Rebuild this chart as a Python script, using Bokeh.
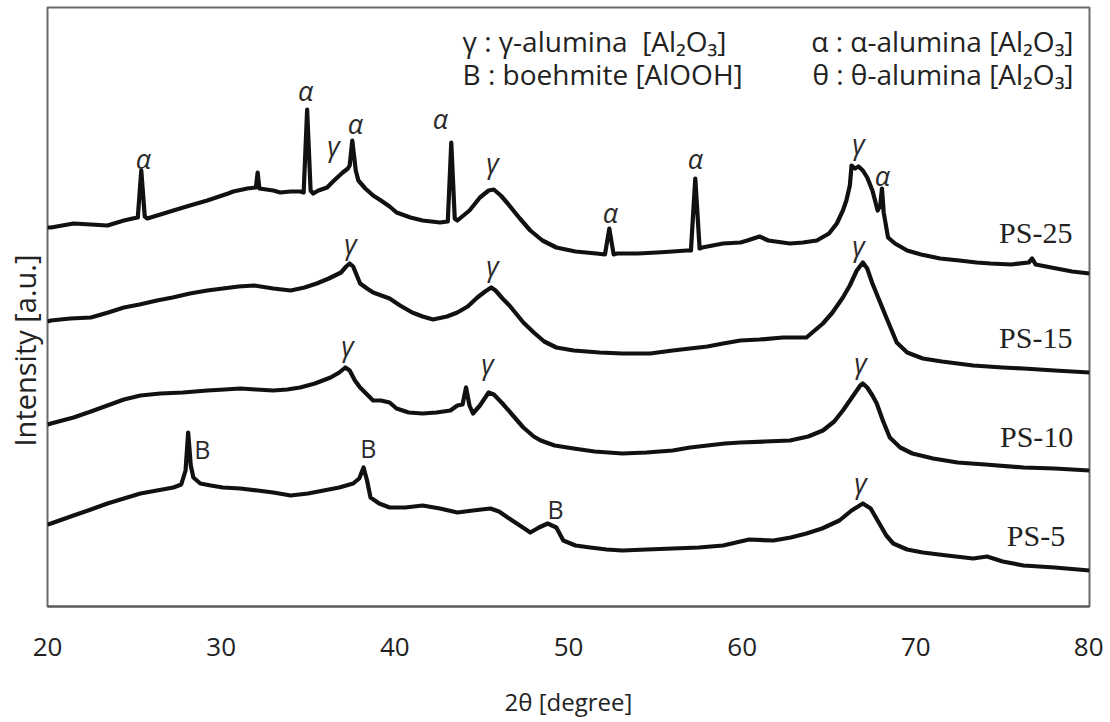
from bokeh.plotting import figure
from bokeh.models import Range1d, FixedTicker, Title
from bokeh.embed import file_html
from bokeh.resources import INLINE
from bokeh.core.properties import value

# ---------------- data (2theta in degree, intensity in a.u.) ----------------
ps25_x = [20.0, 20.2, 21.5, 22.5, 23.45, 24.4, 24.9, 25.2, 25.4, 25.6, 25.75, 26.5, 27.25, 28.2, 29.2,
          30.4, 30.7, 31.5, 32.0, 32.1, 32.2, 33.0, 33.4, 34.0, 34.55, 34.75, 34.95, 35.15, 35.3, 35.6,
          36.1, 36.5, 37.0, 37.3, 37.4, 37.55, 37.75, 37.9, 38.3, 38.75, 39.2, 39.7, 40.1, 40.9, 41.6,
          42.6, 43.05, 43.25, 43.45, 43.6, 44.3, 44.9, 45.4, 45.7, 46.1, 46.5, 47.2, 47.8, 48.5, 49.3,
          50.4, 51.6, 52.1, 52.35, 52.6, 52.8, 54.0, 55.1, 56.0, 56.8, 57.05, 57.3, 57.55, 57.7, 58.9,
          59.9, 60.3, 61.0, 61.5, 62.75, 63.5, 64.3, 65.0, 65.45, 65.8, 66.0, 66.2, 66.3, 66.5, 66.7,
          66.95, 67.2, 67.5, 67.8, 67.95, 68.05, 68.15, 68.25, 68.4, 68.8, 69.5, 70.3, 71.4, 72.5, 73.5,
          74.3, 75.5, 76.5, 76.7, 76.9, 78.1, 79.0, 80.0]
ps25_y = [379, 379, 383, 382, 381, 386, 388, 389, 436, 390, 388, 392, 396, 401, 406,
          413, 415, 418, 419, 434, 418, 416, 414, 415, 415, 414, 497, 416, 413, 416,
          419, 426, 434, 438, 441, 466, 436, 426, 418, 411, 406, 400, 394, 389, 386,
          384, 385, 464, 388, 386, 396, 409, 416, 417, 411, 403, 388, 376, 366, 359,
          355, 353, 352, 378, 352, 353, 353, 354, 355, 356, 356, 428, 358, 359, 363,
          364, 366, 370, 366, 363, 364, 366, 373, 383, 396, 406, 421, 441, 438, 440,
          436, 429, 416, 396, 401, 418, 394, 384, 369, 363, 356, 352, 348, 346, 344,
          343, 342, 344, 348, 342, 338, 335, 333]

ps15_x = [20.0, 20.2, 21.3, 22.5, 23.5, 24.4, 25.3, 26.3, 27.2, 28.2, 29.2, 30.1, 31.0, 31.9, 33.0,
          34.0, 34.8, 35.5, 36.2, 36.9, 37.2, 37.4, 37.6, 38.0, 38.4, 38.75, 39.7, 40.3, 41.0, 41.6,
          42.2, 43.0, 43.6, 44.2, 44.75, 45.2, 45.55, 45.8, 46.2, 46.6, 47.4, 48.0, 48.6, 49.3, 50.3,
          51.8, 53.1, 54.7, 56.0, 57.0, 58.0, 58.9, 59.9, 61.0, 62.35, 63.7, 64.65, 65.2, 65.8, 66.2,
          66.6, 66.95, 67.2, 67.5, 67.9, 68.3, 68.9, 69.5, 70.4, 71.5, 73.3, 75.0, 76.2, 78.0, 80.0]
ps15_y = [285, 286, 288, 289, 294, 299, 302, 306, 309, 313, 316, 318, 320, 321, 318,
          316, 319, 323, 328, 334, 340, 343, 340, 323, 318, 314, 308, 301, 294, 290,
          287, 290, 294, 300, 309, 315, 319, 316, 308, 301, 284, 274, 265, 259, 256,
          254, 253, 253, 256, 258, 260, 263, 266, 267, 269, 269, 283, 294, 309, 321,
          336, 344, 338, 323, 306, 289, 264, 254, 248, 245, 241, 239, 238, 236, 234]

ps10_x = [20.0, 20.2, 21.5, 22.5, 23.45, 24.4, 25.35, 26.5, 27.8, 29.2, 30.2, 31.1, 32.0, 33.0, 33.8,
          34.55, 35.4, 36.3, 36.8, 37.15, 37.4, 37.7, 38.0, 38.4, 38.75, 39.2, 39.7, 40.1, 40.8, 41.6,
          42.4, 43.2, 43.6, 43.9, 44.1, 44.3, 44.5, 44.9, 45.4, 45.7, 46.2, 46.8, 47.4, 48.0, 48.4,
          49.2, 50.3, 51.5, 53.1, 54.5, 56.0, 57.0, 58.0, 59.0, 59.9, 61.3, 62.75, 63.8, 64.65, 65.3,
          65.8, 66.4, 66.8, 66.95, 67.2, 67.5, 67.75, 68.1, 68.5, 69.1, 69.8, 71.0, 72.4, 74.0, 76.2,
          78.0, 80.0]
ps10_y = [182, 183, 189, 195, 201, 207, 211, 213, 214, 216, 217, 218, 217, 216, 217,
          219, 223, 229, 234, 239, 236, 226, 219, 212, 206, 206, 204, 198, 194, 193,
          194, 196, 201, 202, 219, 201, 193, 201, 214, 212, 203, 191, 179, 170, 166,
          161, 158, 155, 153, 154, 156, 159, 161, 163, 164, 165, 166, 170, 176, 185,
          196, 211, 221, 223, 219, 211, 203, 186, 169, 159, 153, 148, 144, 142, 139,
          138, 136]

ps5_x = [20.0, 20.2, 21.5, 22.5, 23.45, 24.4, 25.35, 26.3, 27.25, 27.7, 27.95, 28.1, 28.25, 28.4, 28.8,
         29.4, 30.1, 31.1, 32.1, 33.0, 34.0, 35.0, 35.9, 36.8, 37.6, 37.95, 38.2, 38.4, 38.6, 39.1,
         39.7, 40.6, 41.6, 42.6, 43.6, 44.5, 45.5, 46.0, 46.5, 47.2, 47.8, 48.3, 48.8, 49.3, 49.7,
         50.4, 51.25, 52.2, 53.1, 54.5, 56.0, 57.5, 58.9, 59.9, 60.4, 61.8, 62.8, 63.7, 64.6, 65.6,
         66.3, 66.95, 67.4, 67.9, 68.3, 68.7, 69.5, 70.4, 71.8, 73.3, 74.1, 75.0, 76.2, 78.0, 80.0]
ps5_y = [82, 83, 91, 97, 103, 108, 113, 116, 119, 122, 136, 174, 141, 129, 123,
         121, 119, 118, 116, 114, 111, 113, 116, 119, 123, 128, 139, 126, 109, 103,
         99, 99, 101, 98, 94, 96, 98, 95, 89, 81, 74, 79, 83, 79, 66,
         61, 59, 57, 56, 57, 58, 59, 61, 65, 67, 66, 69, 73, 78, 86,
         96, 103, 98, 83, 71, 63, 57, 54, 51, 48, 50, 45, 41, 39, 36]

# sample names (placed at the right end of each pattern)
sample_names = ["PS-25", "PS-15", "PS-10", "PS-5"]
sample_name_x = [79.02, 79.02, 79.07, 78.6]
sample_name_y = [374, 269, 170, 71]

# peak assignments (Greek letters, italic)
greek_x = [25.53, 34.86, 36.47, 37.73, 42.63, 45.62, 52.42, 57.31, 66.70, 68.08,
           37.45, 45.62, 66.70,
           37.27, 45.34, 66.81,
           66.81]
greek_y = [448, 516, 461, 483, 488, 444, 394, 448, 463, 431,
           363, 341, 361,
           261, 243, 244,
           124]
greek_t = ["α", "α", "γ", "α", "α", "γ", "α", "α", "γ", "α",
           "γ", "γ", "γ",
           "γ", "γ", "γ",
           "γ"]
# boehmite peaks
boeh_x = [28.92, 38.48, 49.25]
boeh_y = [158, 159, 98]
boeh_t = ["B", "B", "B"]

# key text
key_left_t = ["γ : γ-alumina\u00a0\u00a0[Al₂O₃]", "B : boehmite [AlOOH]"]
key_right_t = ["α : α-alumina [Al₂O₃]", "θ : θ-alumina [Al₂O₃]"]
key_y = [566, 533]

x_ticks = [20, 30, 40, 50, 60, 70, 80]

# ---------------- figure ----------------
p = figure(frame_width=1042, frame_height=599,
           x_range=Range1d(20, 80), y_range=Range1d(0, 599),
           output_backend="svg", toolbar_location=None,
           min_border_left=47, min_border_right=14, min_border_top=7, min_border_bottom=112,
           background_fill_color="white", border_fill_color="white")

p.xgrid.visible = False
p.ygrid.visible = False
p.yaxis.visible = False
p.outline_line_color = "#6a6a6a"
p.outline_line_width = 2

ax = p.xaxis[0]
ax.ticker = FixedTicker(ticks=x_ticks)
ax.axis_line_color = "#555555"
ax.axis_line_width = 2
ax.major_tick_out = 0
ax.major_tick_in = 0
ax.minor_tick_out = 0
ax.minor_tick_in = 0
ax.major_label_standoff = 31
ax.major_label_text_font = "Open Sans"
ax.major_label_text_font_size = "26px"
ax.major_label_text_color = "#222222"
ax.axis_label = "2θ [degree]"
ax.axis_label_text_font = "Open Sans"
ax.axis_label_text_font_size = "24px"
ax.axis_label_text_font_style = "normal"
ax.axis_label_text_color = "#222222"
ax.axis_label_standoff = 26

for xs, ys in [(ps25_x, ps25_y), (ps15_x, ps15_y), (ps10_x, ps10_y), (ps5_x, ps5_y)]:
    p.line(xs, ys, line_color="#111111", line_width=4.2, line_join="round")

p.text(x=sample_name_x, y=sample_name_y, text=sample_names,
       text_font=value("Liberation Serif"), text_font_size="30px", text_color="#222222",
       text_align="right", text_baseline="middle")

p.text(x=greek_x, y=greek_y, text=greek_t,
       text_font=value("Open Sans"), text_font_size="27px", text_font_style="italic",
       text_color="#2a2a2a", text_align="center", text_baseline="middle")

p.text(x=boeh_x, y=boeh_y, text=boeh_t,
       text_font=value("Open Sans"), text_font_size="25px", text_color="#2a2a2a",
       text_align="center", text_baseline="middle")

p.text(x=[43.9, 43.9], y=key_y, text=key_left_t,
       text_font=value("Open Sans"), text_font_size="28px", text_color="#222222",
       text_align="left", text_baseline="middle")
p.text(x=[79.08, 79.08], y=key_y, text=key_right_t,
       text_font=value("Open Sans"), text_font_size="28px", text_color="#222222",
       text_align="right", text_baseline="middle")

ytitle = Title(text="Intensity [a.u.]", align="left", offset=160, standoff=4,
               vertical_align="top",
               text_font="Open Sans", text_font_size="29px", text_font_style="normal",
               text_color="#222222")
p.add_layout(ytitle, "left")

open("out.html", "w").write(file_html(p, INLINE))
